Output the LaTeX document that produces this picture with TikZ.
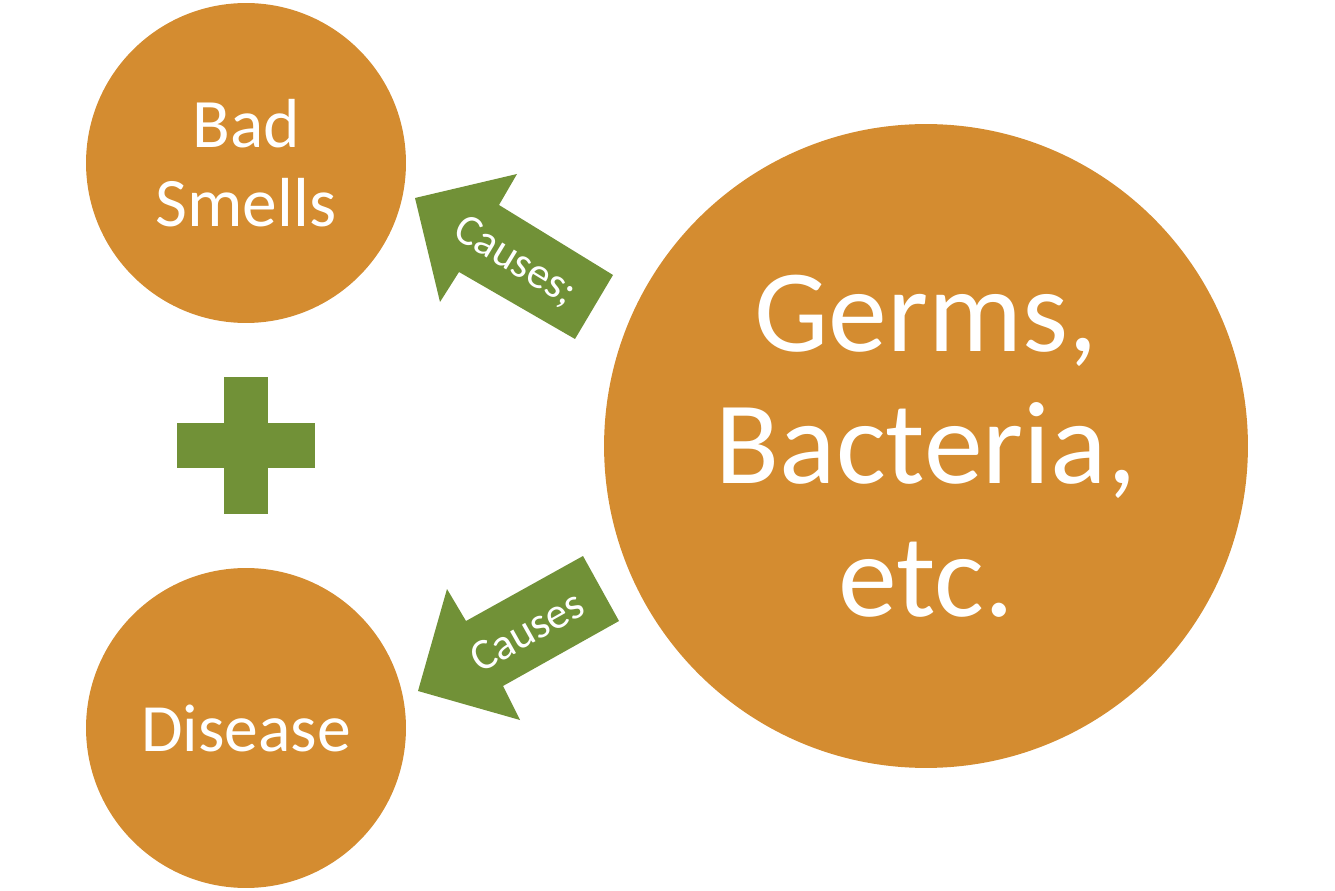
\documentclass[tikz,border=0pt]{standalone}
\usepackage{fontspec}
\setmainfont{Carlito}
\usetikzlibrary{positioning}
\definecolor{germorange}{RGB}{212,140,48}
\definecolor{causegreen}{RGB}{113,145,55}

\begin{document}
\begin{tikzpicture}[x=.02cm,y=-.02cm,
		bubble/.style={circle,fill=germorange,text=white,align=center,inner sep=0pt},
		causetext/.style={text=white,inner sep=0pt,font=\fontsize{25}{28}\selectfont}]
	\useasboundingbox (0,0) rectangle (1335,891);
	% the three circles
	\node[bubble,minimum size=6.4cm,font=\fontsize{39.5}{45}\selectfont] (smells) at (246,163) {Bad\\Smells};
	\node[bubble,minimum size=6.4cm,font=\fontsize{38.5}{44}\selectfont] (disease) at (246,728) {Disease};
	\node[bubble,minimum size=12.88cm,font=\fontsize{67}{75.5}\selectfont] (germs) at (926,446) {Germs,\\Bacteria,\\etc.};
	% plus sign
	\fill[causegreen] (224,377) rectangle (268,514);
	\fill[causegreen] (177,423) rectangle (315,468);
	% block arrows
	\fill[causegreen] (415,198) -- (517,174) -- (499,205) -- (613,275) -- (575,339) -- (459,272) -- (440,302) -- cycle;
	\fill[causegreen] (418,691) -- (447,589) -- (466,621) -- (583,556) -- (619,621) -- (503,686) -- (520,720) -- cycle;
	\node[causetext,rotate=-31.3] (upcause) at (515,262) {Causes;};
	\node[causetext,rotate=29.4] (downcause) at (527,631) {Causes};
\end{tikzpicture}
\end{document}
